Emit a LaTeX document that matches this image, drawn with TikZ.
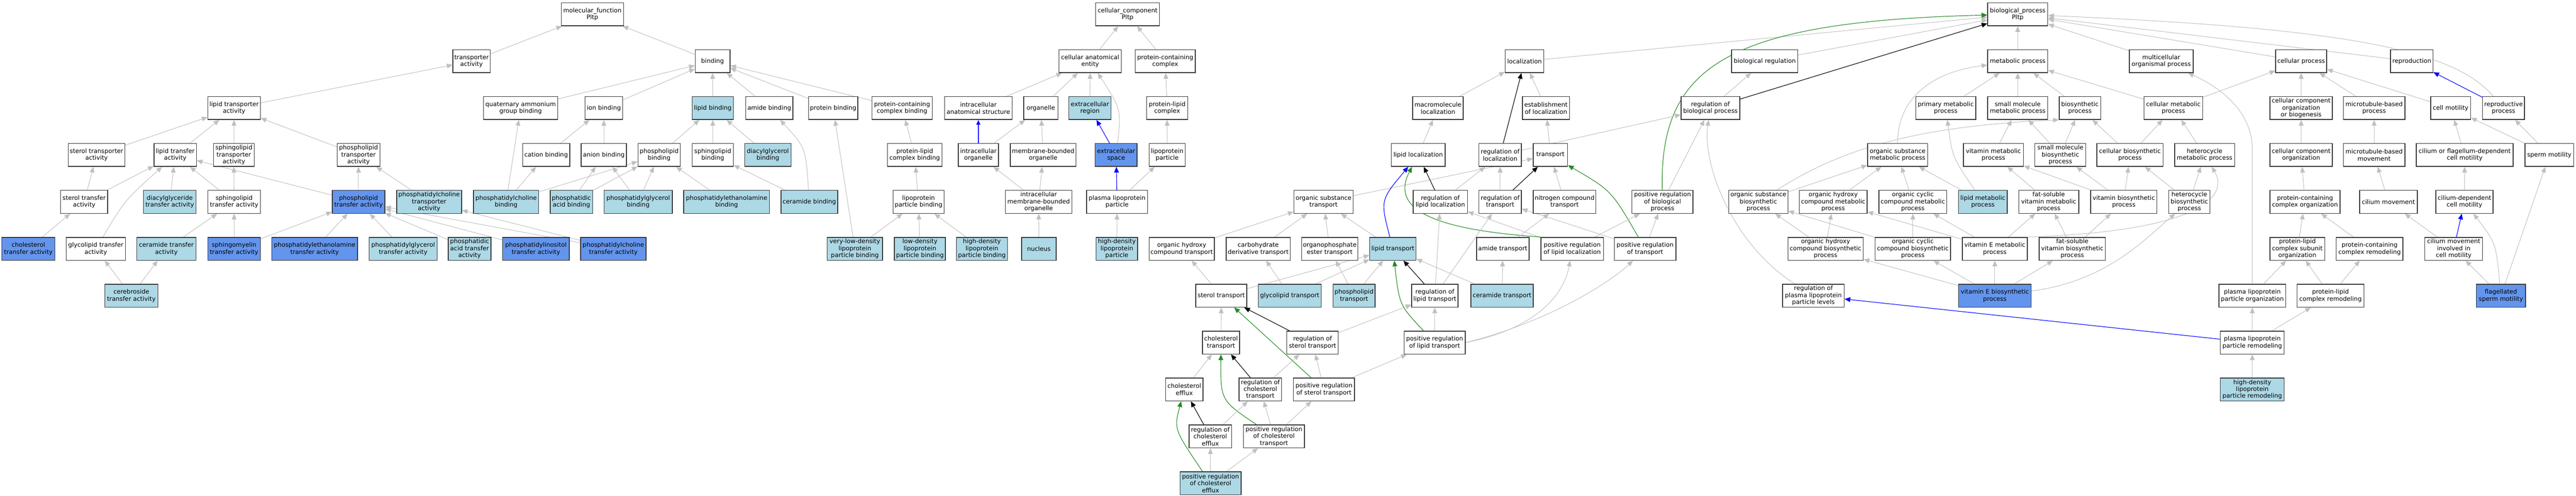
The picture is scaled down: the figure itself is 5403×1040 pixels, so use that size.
\documentclass[tikz,border=0pt]{standalone}
\usepackage{fontspec}
\setmainfont{DejaVu Sans}
\usetikzlibrary{arrows.meta}
\definecolor{lb}{RGB}{173,216,230}
\definecolor{cb}{RGB}{100,149,237}
\definecolor{eg}{RGB}{192,192,192}
\definecolor{fg}{RGB}{34,139,34}
\definecolor{bd}{RGB}{55,55,55}
\pgfdeclarelayer{bg}
\pgfsetlayers{bg,main}
\tikzset{
  gobox/.style={draw=bd, line width=1.5pt, rectangle, minimum height=48, inner xsep=2pt, inner ysep=0pt, align=center, font=\fontsize{12.8}{14.5}\selectfont},
  ge/.style={draw=eg, line width=1.1pt, -{Triangle[length=12pt,width=10pt]}},
  bke/.style={draw=black, line width=1.2pt, -{Triangle[length=12pt,width=10pt]}},
  be/.style={draw=blue, line width=1.2pt, -{Triangle[length=12pt,width=10pt]}},
  bthick/.style={draw=blue, line width=3pt, -{Triangle[length=10pt,width=8pt]}},
  gre/.style={draw=fg, line width=1.2pt, -{Triangle[length=12pt,width=10pt]}},
}
\newcommand\gonode[6]{\node[gobox,fill=#5,minimum width={#3-#2}] (#1) at ({(#2+#3)/2},{30+98.4*#4}) {#6};}
\begin{document}
\begin{tikzpicture}[x=1pt,y=-1pt]
\useasboundingbox (0,0) rectangle (5403,1040);
% ---------------- molecular function ----------------
\gonode{mf}{1177}{1308}{0}{white}{molecular\_function\\Pltp}
\gonode{tra}{950}{1028}{1}{white}{transporter\\activity}
\gonode{bind}{1458}{1531}{1}{white}{binding}
\gonode{lta}{436}{546}{2}{white}{lipid transporter\\activity}
\gonode{qab}{1014}{1170}{2}{white}{quaternary ammonium\\group binding}
\gonode{ionb}{1227}{1306}{2}{white}{ion binding}
\gonode{lipb}{1452}{1538}{2}{lb}{lipid binding}
\gonode{amb}{1564}{1663}{2}{white}{amide binding}
\gonode{protb}{1696}{1799}{2}{white}{protein binding}
\gonode{pccb}{1829}{1955}{2}{white}{protein-containing\\complex binding}
\gonode{stra}{143}{262}{3}{white}{sterol transporter\\activity}
\gonode{ltfa}{323}{412}{3}{white}{lipid transfer\\activity}
\gonode{sphta}{448}{533}{3}{white}{sphingolipid\\transporter\\activity}
\gonode{phta}{707}{797}{3}{white}{phospholipid\\transporter\\activity}
\gonode{catb}{1096}{1195}{3}{white}{cation binding}
\gonode{anb}{1219}{1314}{3}{white}{anion binding}
\gonode{phb}{1338}{1427}{3}{white}{phospholipid\\binding}
\gonode{sphb}{1452}{1538}{3}{white}{sphingolipid\\binding}
\gonode{dagb}{1562}{1659}{3}{lb}{diacylglycerol\\binding}
\gonode{plcb}{1861}{1976}{3}{white}{protein-lipid\\complex binding}
\gonode{stfa}{127}{226}{4}{white}{sterol transfer\\activity}
\gonode{dagta}{301}{411}{4}{lb}{diacylglyceride\\transfer activity}
\gonode{sphtf}{436}{546}{4}{white}{sphingolipid\\transfer activity}
\gonode{phtf}{697}{807}{4}{cb}{phospholipid\\transfer activity}
\gonode{pctra}{832}{968}{4}{lb}{phosphatidylcholine\\transporter\\activity}
\gonode{pcb}{993}{1130}{4}{lb}{phosphatidylcholine\\binding}
\gonode{pab}{1154}{1243}{4}{lb}{phosphatidic\\acid binding}
\gonode{pgb}{1267}{1410}{4}{lb}{phosphatidylglycerol\\binding}
\gonode{peb}{1434}{1614}{4}{lb}{phosphatidylethanolamine\\binding}
\gonode{cerb}{1638}{1757}{4}{lb}{ceramide binding}
\gonode{lpb}{1873}{1980}{4}{white}{lipoprotein\\particle binding}
\gonode{chtf}{4}{115}{5}{cb}{cholesterol\\transfer activity}
\gonode{gltf}{139}{263}{5}{white}{glycolipid transfer\\activity}
\gonode{certf}{287}{411}{5}{lb}{ceramide transfer\\activity}
\gonode{smtf}{436}{546}{5}{cb}{sphingomyelin\\transfer activity}
\gonode{petf}{570}{750}{5}{cb}{phosphatidylethanolamine\\transfer activity}
\gonode{pgtf}{774}{917}{5}{lb}{phosphatidylglycerol\\transfer activity}
\gonode{patf}{940}{1030}{5}{lb}{phosphatidic\\acid transfer\\activity}
\gonode{pitf}{1054}{1194}{5}{cb}{phosphatidylinositol\\transfer activity}
\gonode{pctf}{1218}{1355}{5}{cb}{phosphatidylcholine\\transfer activity}
\gonode{vldlb}{1735}{1851}{5}{lb}{very-low-density\\lipoprotein\\particle binding}
\gonode{ldlb}{1876}{1983}{5}{lb}{low-density\\lipoprotein\\particle binding}
\gonode{hdlb}{2006}{2113}{5}{lb}{high-density\\lipoprotein\\particle binding}
\gonode{cbtf}{220}{331}{6}{lb}{cerebroside\\transfer activity}
% ---------------- cellular component ----------------
\gonode{cc}{2298}{2432}{0}{white}{cellular\_component\\Pltp}
\gonode{cae}{2221}{2352}{1}{white}{cellular anatomical\\entity}
\gonode{pcc}{2381}{2507}{1}{white}{protein-containing\\complex}
\gonode{ias}{1981}{2123}{2}{white}{intracellular\\anatomical structure}
\gonode{org}{2147}{2219}{2}{white}{organelle}
\gonode{exr}{2242}{2330}{2}{lb}{extracellular\\region}
\gonode{plc}{2405}{2491}{2}{white}{protein-lipid\\complex}
\gonode{io}{2010}{2094}{3}{white}{intracellular\\organelle}
\gonode{mbo}{2119}{2257}{3}{white}{membrane-bounded\\organelle}
\gonode{exs}{2297}{2385}{3}{cb}{extracellular\\space}
\gonode{lpp}{2410}{2486}{3}{white}{lipoprotein\\particle}
\gonode{imbo}{2109}{2248}{4}{white}{intracellular\\membrane-bounded\\organelle}
\gonode{plp}{2279}{2407}{4}{white}{plasma lipoprotein\\particle}
\gonode{nuc}{2143}{2215}{5}{lb}{nucleus}
\gonode{hdlp}{2299}{2386}{5}{lb}{high-density\\lipoprotein\\particle}
% ---------------- biological process ----------------
\gonode{bp}{4169}{4295}{0}{white}{biological\_process\\Pltp}
\gonode{loc}{3157}{3238}{1}{white}{localization}
\gonode{breg}{3632}{3771}{1}{white}{biological regulation}
\gonode{mp}{4169}{4295}{1}{white}{metabolic process}
\gonode{mop}{4466}{4600}{1}{white}{multicellular\\organismal process}
\gonode{cp}{4773}{4880}{1}{white}{cellular process}
\gonode{repro}{5014}{5103}{1}{white}{reproduction}
\gonode{mloc}{2963}{3069}{2}{white}{macromolecule\\localization}
\gonode{eloc}{3193}{3292}{2}{white}{establishment\\of localization}
\gonode{rbp}{3526}{3649}{2}{white}{regulation of\\biological process}
\gonode{pmp}{4018}{4144}{2}{white}{primary metabolic\\process}
\gonode{smmp}{4169}{4295}{2}{white}{small molecule\\metabolic process}
\gonode{bsp}{4319}{4406}{2}{white}{biosynthetic\\process}
\gonode{cmp}{4497}{4620}{2}{white}{cellular metabolic\\process}
\gonode{ccob}{4761}{4892}{2}{white}{cellular component\\organization\\or biogenesis}
\gonode{mtbp}{4915}{5044}{2}{white}{microtubule-based\\process}
\gonode{cmot}{5098}{5182}{2}{white}{cell motility}
\gonode{rproc}{5207}{5295}{2}{white}{reproductive\\process}
\gonode{lloc}{2918}{3031}{3}{white}{lipid localization}
\gonode{rloc}{3102}{3191}{3}{white}{regulation of\\localization}
\gonode{trans}{3216}{3288}{3}{white}{transport}
\gonode{osmp}{3917}{4043}{3}{white}{organic substance\\metabolic process}
\gonode{vmp}{4118}{4244}{3}{white}{vitamin metabolic\\process}
\gonode{smbp}{4268}{4375}{3}{white}{small molecule\\biosynthetic\\process}
\gonode{cbp}{4398}{4537}{3}{white}{cellular biosynthetic\\process}
\gonode{hmp}{4561}{4687}{3}{white}{heterocycle\\metabolic process}
\gonode{cco}{4761}{4892}{3}{white}{cellular component\\organization}
\gonode{mtbm}{4915}{5044}{3}{white}{microtubule-based\\movement}
\gonode{cfdcm}{5068}{5271}{3}{white}{cilium or flagellum-dependent\\cell motility}
\gonode{spm}{5296}{5398}{3}{white}{sperm motility}
\gonode{ost}{2714}{2838}{4}{white}{organic substance\\transport}
\gonode{rlloc}{2964}{3078}{4}{white}{regulation of\\lipid localization}
\gonode{rtrans}{3102}{3191}{4}{white}{regulation of\\transport}
\gonode{nct}{3216}{3347}{4}{white}{nitrogen compound\\transport}
\gonode{prbp}{3423}{3551}{4}{white}{positive regulation\\of biological\\process}
\gonode{osbp}{3626}{3750}{4}{white}{organic substance\\biosynthetic\\process}
\gonode{ohcmp}{3774}{3916}{4}{white}{organic hydroxy\\compound metabolic\\process}
\gonode{occmp}{3941}{4083}{4}{white}{organic cyclic\\compound metabolic\\process}
\gonode{lmp}{4108}{4210}{4}{lb}{lipid metabolic\\process}
\gonode{fsvmp}{4234}{4360}{4}{white}{fat-soluble\\vitamin metabolic\\process}
\gonode{vbp}{4385}{4524}{4}{white}{vitamin biosynthetic\\process}
\gonode{hbp}{4549}{4635}{4}{white}{heterocycle\\biosynthetic\\process}
\gonode{pcco}{4761}{4908}{4}{white}{protein-containing\\complex organization}
\gonode{cilm}{4949}{5070}{4}{white}{cilium movement}
\gonode{cdcm}{5109}{5229}{4}{white}{cilium-dependent\\cell motility}
\gonode{ohct}{2410}{2547}{5}{white}{organic hydroxy\\compound transport}
\gonode{cdt}{2572}{2706}{5}{white}{carbohydrate\\derivative transport}
\gonode{opet}{2730}{2848}{5}{white}{organophosphate\\ester transport}
\gonode{ltr}{2873}{2970}{5}{lb}{lipid transport}
\gonode{amt}{3097}{3207}{5}{white}{amide transport}
\gonode{prlloc}{3232}{3363}{5}{white}{positive regulation\\of lipid localization}
\gonode{prtrans}{3386}{3515}{5}{white}{positive regulation\\of transport}
\gonode{ohcbp}{3750}{3908}{5}{white}{organic hydroxy\\compound biosynthetic\\process}
\gonode{occbp}{3933}{4091}{5}{white}{organic cyclic\\compound biosynthetic\\process}
\gonode{vemp}{4116}{4252}{5}{white}{vitamin E metabolic\\process}
\gonode{fsvbp}{4277}{4416}{5}{white}{fat-soluble\\vitamin biosynthetic\\process}
\gonode{plcso}{4761}{4876}{5}{white}{protein-lipid\\complex subunit\\organization}
\gonode{pccr}{4900}{5040}{5}{white}{protein-containing\\complex remodeling}
\gonode{cmicm}{5086}{5207}{5}{white}{cilium movement\\involved in\\cell motility}
\gonode{stt}{2508}{2615}{6}{white}{sterol transport}
\gonode{glt}{2639}{2771}{6}{lb}{glycolipid transport}
\gonode{pht}{2796}{2884}{6}{lb}{phospholipid\\transport}
\gonode{rltr}{2961}{3058}{6}{white}{regulation of\\lipid transport}
\gonode{cert}{3085}{3216}{6}{lb}{ceramide transport}
\gonode{rplpl}{3739}{3868}{6}{white}{regulation of\\plasma lipoprotein\\particle levels}
\gonode{vebp}{4108}{4260}{6}{cb}{vitamin E biosynthetic\\process}
\gonode{plpo}{4654}{4794}{6}{white}{plasma lipoprotein\\particle organization}
\gonode{plcr}{4818}{4958}{6}{white}{protein-lipid\\complex remodeling}
\gonode{fsm}{5194}{5297}{6}{cb}{flagellated\\sperm motility}
\gonode{cht}{2522}{2600}{7}{white}{cholesterol\\transport}
\gonode{rstt}{2699}{2807}{7}{white}{regulation of\\sterol transport}
\gonode{prltr}{2945}{3073}{7}{white}{positive regulation\\of lipid transport}
\gonode{plpr}{4657}{4791}{7}{white}{plasma lipoprotein\\particle remodeling}
\gonode{che}{2445}{2523}{8}{white}{cholesterol\\efflux}
\gonode{rcht}{2599}{2688}{8}{white}{regulation of\\cholesterol\\transport}
\gonode{prstt}{2713}{2841}{8}{white}{positive regulation\\of sterol transport}
\gonode{hdlpr}{4657}{4791}{8}{lb}{high-density\\lipoprotein\\particle remodeling}
\gonode{rche}{2494}{2583}{9}{white}{regulation of\\cholesterol\\efflux}
\gonode{prcht}{2608}{2736}{9}{white}{positive regulation\\of cholesterol\\transport}
\gonode{prche}{2475}{2603}{10}{lb}{positive regulation\\of cholesterol\\efflux}
% ---------------- edges ----------------
\begin{pgfonlayer}{bg}
% MF
\draw[ge] (tra) -- (mf);
\draw[ge] (bind) -- (mf);
\draw[ge] (lta) -- (tra);
\draw[ge] (qab) -- (bind);
\draw[ge] (ionb) -- (bind);
\draw[ge] (lipb) -- (bind);
\draw[ge] (amb) -- (bind);
\draw[ge] (protb) -- (bind);
\draw[ge] (pccb) -- (bind);
\draw[ge] (stra) -- (lta);
\draw[ge] (ltfa) -- (lta);
\draw[ge] (sphta) -- (lta);
\draw[ge] (phta) -- (lta);
\draw[ge] (catb) -- (ionb);
\draw[ge] (anb) -- (ionb);
\draw[ge] (phb) -- (lipb);
\draw[ge] (sphb) -- (lipb);
\draw[ge] (dagb) -- (lipb);
\draw[ge] (plcb) -- (pccb);
\draw[ge] (stfa) -- (stra);
\draw[ge] (stfa) -- (ltfa);
\draw[ge] (dagta) -- (ltfa);
\draw[ge] (sphtf) -- (ltfa);
\draw[ge] (sphtf) -- (sphta);
\draw[ge] (phtf) -- (ltfa);
\draw[ge] (phtf) -- (phta);
\draw[ge] (pctra) -- (phta);
\draw[ge] (pcb) -- (qab);
\draw[ge] (pcb) -- (catb);
\draw[ge] (pcb) -- (phb);
\draw[ge] (pab) -- (anb);
\draw[ge] (pab) -- (phb);
\draw[ge] (pgb) -- (anb);
\draw[ge] (pgb) -- (phb);
\draw[ge] (peb) -- (phb);
\draw[ge] (cerb) -- (sphb);
\draw[ge] (cerb) .. controls (1690,310) .. (amb);
\draw[ge] (lpb) -- (plcb);
\draw[ge] (chtf) -- (stfa);
\draw[ge] (gltf) .. controls (262,420) .. (ltfa);
\draw[ge] (certf) -- (sphtf);
\draw[ge] (smtf) -- (sphtf);
\draw[ge] (smtf) -- (phtf);
\draw[ge] (petf) -- (phtf);
\draw[ge] (pgtf) -- (phtf);
\draw[ge] (patf) -- (phtf);
\draw[ge] (pitf) -- (phtf);
\draw[ge] (pctf) -- (phtf);
\draw[ge] (pctf) -- (pctra);
\draw[ge] (cbtf) -- (gltf);
\draw[ge] (cbtf) -- (certf);
\draw[ge] (vldlb) -- (protb);
\draw[ge] (vldlb) -- (lpb);
\draw[ge] (ldlb) -- (lpb);
\draw[ge] (hdlb) -- (lpb);
% CC
\draw[ge] (cae) -- (cc);
\draw[ge] (pcc) -- (cc);
\draw[ge] (ias) -- (cae);
\draw[ge] (org) -- (cae);
\draw[ge] (exr) -- (cae);
\draw[ge] (exs) .. controls (2352,230) .. (cae);
\draw[ge] (plc) -- (pcc);
\draw[bthick] (io) -- (ias);
\draw[ge] (io) -- (org);
\draw[ge] (mbo) -- (org);
\draw[be] (exs) -- (exr);
\draw[ge] (lpp) -- (plc);
\draw[ge] (imbo) -- (io);
\draw[ge] (imbo) -- (mbo);
\draw[be] (plp) -- (exs);
\draw[ge] (plp) -- (lpp);
\draw[ge] (nuc) -- (imbo);
\draw[ge] (hdlp) -- (plp);
% BP top
\draw[ge] (loc) -- (bp);
\draw[ge] (breg) -- (bp);
\draw[ge] (mp) -- (bp);
\draw[ge] (mop) -- (bp);
\draw[ge] (cp) -- (bp);
\draw[ge] (repro) -- (bp);
\draw[ge] (rproc) .. controls (5150,110) and (4950,60) .. (bp);
\draw[bke] (rbp) -- (bp);
\draw[gre] (prbp) .. controls (3480,140) and (3620,45) .. (bp);
\draw[ge] (rbp) -- (breg);
% localization / transport
\draw[ge] (mloc) -- (loc);
\draw[bke] (rloc) -- (loc);
\draw[ge] (eloc) -- (loc);
\draw[ge] (rloc) -- (rbp);
\draw[ge] (trans) -- (eloc);
\draw[bke] (rtrans) -- (trans);
\draw[ge] (rtrans) -- (rloc);
\draw[ge] (nct) -- (trans);
\draw[ge] (ost) -- (trans);
\draw[gre] (prtrans) .. controls (3380,400) .. (trans);
\draw[ge] (prtrans) -- (prbp);
\draw[ge] (prtrans) -- (rtrans);
\draw[ge] (prlloc) -- (prbp);
\draw[ge] (prlloc) -- (rlloc);
\draw[gre] (prlloc.north west) .. controls (2980,480) and (2920,430) .. (lloc);
\draw[ge] (prbp) -- (rbp);
\draw[ge] (rplpl) .. controls (3630,510) and (3570,340) .. (rbp);
\draw[ge] (lloc) -- (mloc);
\draw[bke] (rlloc) -- (lloc);
\draw[ge] (rlloc) -- (rloc);
\draw[be] (ltr) .. controls (2895,420) .. (lloc);
\draw[ge] (ltr) -- (ost);
\draw[bke] (rltr) -- (ltr);
\draw[ge] (rltr) -- (rlloc);
\draw[ge] (rltr) -- (rtrans);
\draw[gre] (prltr) .. controls (2935,640) .. (ltr);
\draw[ge] (prltr) -- (rltr);
\draw[ge] (prltr.east) .. controls (3220,690) and (3280,620) .. (prlloc);
\draw[ge] (prltr.east) .. controls (3250,675) and (3380,590) .. (prtrans);
\draw[ge] (cert) -- (ltr);
\draw[ge] (cert) -- (amt);
\draw[ge] (amt) -- (nct);
\draw[ge] (pht) -- (ltr);
\draw[ge] (pht) -- (opet);
\draw[ge] (opet) -- (ost);
\draw[ge] (glt) -- (ltr);
\draw[ge] (glt) -- (cdt);
\draw[ge] (stt) -- (ltr);
\draw[ge] (stt) -- (ohct);
\draw[ge] (ohct) -- (ost);
\draw[ge] (cdt) -- (ost);
\draw[bke] (rstt) -- (stt);
\draw[ge] (rstt) -- (rltr);
\draw[gre] (prstt) -- (stt);
\draw[ge] (prstt) -- (rstt);
\draw[ge] (prstt) -- (prltr);
\draw[ge] (cht) -- (stt);
\draw[bke] (rcht) -- (cht);
\draw[ge] (rcht) -- (rstt);
\draw[gre] (prcht) .. controls (2560,840) .. (cht);
\draw[ge] (prcht) -- (rcht);
\draw[ge] (prcht) -- (prstt);
\draw[ge] (che) -- (cht);
\draw[bke] (rche) -- (che);
\draw[ge] (rche) -- (rcht);
\draw[gre] (prche) .. controls (2462,900) .. (che);
\draw[ge] (prche) -- (rche);
\draw[ge] (prche) -- (prcht);
% metabolism
\draw[ge] (pmp) -- (mp);
\draw[ge] (smmp) -- (mp);
\draw[ge] (bsp) -- (mp);
\draw[ge] (cmp) -- (mp);
\draw[ge] (cmp) -- (cp);
\draw[ge] (osmp) .. controls (3980,200) and (4060,150) .. (mp);
\draw[ge] (osbp) .. controls (3850,320) and (4000,265) .. (bsp.south west);
\draw[ge] (osbp) -- (osmp);
\draw[ge] (lmp) .. controls (4095,330) .. (pmp);
\draw[ge] (lmp) -- (osmp);
\draw[ge] (ohcmp) -- (osmp);
\draw[ge] (occmp) -- (osmp);
\draw[ge] (vmp) -- (smmp);
\draw[ge] (smbp) -- (smmp);
\draw[ge] (smbp) -- (bsp);
\draw[ge] (cbp) -- (bsp);
\draw[ge] (cbp) -- (cmp);
\draw[ge] (hmp) -- (cmp);
\draw[ge] (hbp) -- (cbp);
\draw[ge] (hbp) -- (hmp);
\draw[ge] (fsvmp) -- (vmp);
\draw[ge] (vbp) -- (vmp);
\draw[ge] (vbp) -- (smbp);
\draw[ge] (vbp) -- (cbp);
\draw[ge] (fsvbp) -- (fsvmp);
\draw[ge] (fsvbp) -- (vbp);
\draw[ge] (vemp) -- (fsvmp);
\draw[ge] (vemp) -- (ohcmp);
\draw[ge] (vemp) -- (occmp);
\draw[ge] (vemp.north east) .. controls (4620,485) and (4675,410) .. (hmp);
\draw[ge] (vebp) -- (vemp);
\draw[ge] (vebp) -- (fsvbp);
\draw[ge] (vebp) -- (occbp);
\draw[ge] (vebp) -- (ohcbp);
\draw[ge] (vebp) .. controls (4420,590) and (4500,500) .. (hbp);
\draw[ge] (ohcbp) -- (ohcmp);
\draw[ge] (ohcbp) -- (osbp);
\draw[ge] (occbp) -- (osbp);
\draw[ge] (occbp) -- (occmp);
% cellular process branch
\draw[ge] (ccob) -- (cp);
\draw[ge] (mtbp) -- (cp);
\draw[ge] (cmot) -- (cp);
\draw[ge] (cco) -- (ccob);
\draw[ge] (pcco) -- (cco);
\draw[ge] (plcso) -- (pcco);
\draw[ge] (pccr) -- (pcco);
\draw[ge] (plpo) -- (plcso);
\draw[ge] (plpo.north) -- (4724,313) .. controls (4724,230) and (4650,180) .. (mop);
\draw[ge] (plcr) -- (plcso);
\draw[ge] (plcr) -- (pccr);
\draw[ge] (plpr) -- (plpo);
\draw[ge] (plpr) -- (plcr);
\draw[ge] (hdlpr) -- (plpr);
\draw[be] (plpr) -- (rplpl);
\draw[ge] (mtbm) -- (mtbp);
\draw[ge] (cilm) -- (mtbm);
\draw[ge] (cfdcm) -- (cmot);
\draw[ge] (spm) -- (cmot);
\draw[ge] (spm) -- (rproc);
\draw[be] (rproc) -- (repro);
\draw[ge] (cdcm) -- (cfdcm);
\draw[be] (cmicm) -- (cdcm);
\draw[ge] (cmicm) -- (cilm);
\draw[ge] (fsm) -- (cmicm);
\draw[ge] (fsm) .. controls (5235,510) .. (cdcm);
\draw[ge] (fsm) -- (spm);
\end{pgfonlayer}
\end{tikzpicture}
\end{document}
